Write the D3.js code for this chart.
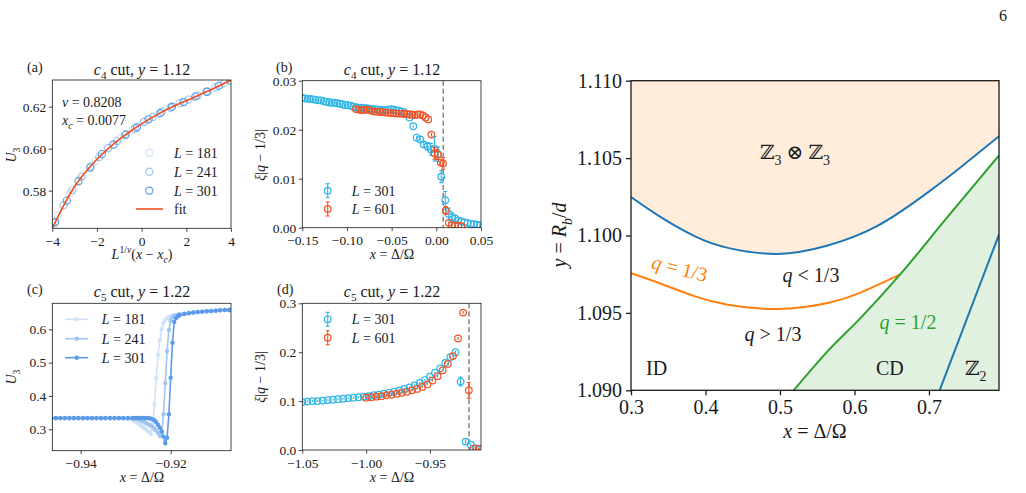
<!DOCTYPE html>
<html><head><meta charset="utf-8">
<script src="https://cdn.jsdelivr.net/npm/d3@7"></script>
<style>body{margin:0;background:#fff}</style>
</head><body><svg id="c" width="1026" height="493"></svg>
<script>
// ---------------- DATA ----------------
// (a) data collapse, c4 cut y=1.12
const a181X = [-3.75,-3.19,-2.63,-2.07,-1.51,-0.95,-0.39,0.17,0.73,1.29,1.85,2.41,2.97,3.53];
const a181Y = [0.5682,0.5788,0.5874,0.5941,0.6002,0.6049,0.6090,0.6131,0.6166,0.6194,0.6221,0.6247,0.6274,0.6303];
const a241X = [-3.9,-3.5,-3.1,-2.7,-2.3,-1.9,-1.5,-1.1,-0.7,-0.3,0.1,0.5,0.9,1.3,1.7,2.1,2.5,2.9,3.3,3.7];
const a241Y = [0.5645,0.5731,0.5803,0.5866,0.5916,0.5960,0.6003,0.6036,0.6069,0.6096,0.6127,0.6151,0.6177,0.6196,0.6217,0.6234,0.6253,0.6272,0.6292,0.6312];
const a301X = [-3.87,-3.35,-2.83,-2.30,-1.78,-1.26,-0.73,-0.21,0.31,0.84,1.36,1.88,2.41,2.93,3.45,3.97];
const a301Y = [0.5652,0.5753,0.5845,0.5910,0.5974,0.6020,0.6066,0.6102,0.6140,0.6169,0.6200,0.6222,0.6249,0.6271,0.6299,0.6324];
const fitX = [-4,-3.5,-3,-2.5,-2,-1.5,-1,-0.5,0,0.5,1,1.5,2,2.5,3,3.5,4];
const fitY = [0.5621,0.5728,0.5820,0.5890,0.5950,0.6000,0.6044,0.6083,0.6118,0.6150,0.6180,0.6206,0.6228,0.6252,0.6276,0.6301,0.6327];
const aXTicks = [-4,-2,0,2,4];
const aYTicks = [0.58,0.60,0.62];

// (b) xi|q-1/3|, c4 cut
const b301X = [-0.150,-0.147,-0.144,-0.141,-0.138,-0.135,-0.132,-0.129,-0.126,-0.123,-0.120,-0.117,-0.114,-0.111,-0.108,-0.105,-0.102,-0.099,-0.096,-0.093,-0.090,-0.087,-0.084,-0.081,-0.078,-0.075,-0.072,-0.069,-0.066,-0.063,-0.060,-0.057,-0.054,-0.051,-0.048,-0.045,-0.042,-0.039,-0.036,-0.033,-0.030,
  -0.0258,-0.0220,-0.0180,-0.0140,-0.0100,-0.0063,-0.0020,0.0020,0.0055,0.0100,0.0140,0.0175,0.0210,0.0245,0.0280,0.0315,0.0350,0.0385,0.0420,0.0455,0.0490];
const b301Y = [0.0265,0.0264,0.0263,0.0263,0.0262,0.0261,0.0260,0.0260,0.0258,0.0257,0.0256,0.0255,0.0255,0.0254,0.0253,0.0252,0.0250,0.0250,0.0249,0.0247,0.0246,0.0245,0.0245,0.0244,0.0244,0.0243,0.0242,0.0242,0.0241,0.0241,0.0240,0.0240,0.0241,0.0242,0.0241,0.0240,0.0239,0.0237,0.0236,0.0232,0.0225,
  0.0207,0.0184,0.0180,0.0170,0.0166,0.0160,0.0161,0.0150,0.0104,0.0056,0.0028,0.0022,0.0019,0.0015,0.0013,0.0011,0.0010,0.0008,0.0007,0.0006,0.0005];
const b301E = [0.0002,0.0002,0.0002,0.0002,0.0002,0.0002,0.0002,0.0002,0.0002,0.0002,0.0002,0.0002,0.0002,0.0002,0.0002,0.0002,0.0002,0.0002,0.0002,0.0002,0.0002,0.0002,0.0002,0.0002,0.0002,0.0002,0.0002,0.0002,0.0002,0.0002,0.0002,0.0002,0.0002,0.0002,0.0002,0.0002,0.0002,0.0002,0.0002,0.0002,0.0003,
  0.0003,0.0004,0.0005,0.0006,0.0008,0.0012,0.0025,0.0015,0.0012,0.0018,0.0012,0.0008,0.0005,0.0004,0.0003,0.0003,0.0003,0.0003,0.0003,0.0003,0.0003];
const b601X = [-0.090,-0.087,-0.084,-0.081,-0.078,-0.075,-0.072,-0.069,-0.066,-0.063,-0.060,-0.057,-0.054,-0.051,-0.048,-0.045,-0.042,-0.039,-0.036,-0.033,-0.030,-0.027,-0.024,-0.021,-0.018,-0.015,-0.012,-0.009,
  -0.0055,-0.0020,0.0015,0.0050,0.0075,0.0105,0.0140,0.0175,0.0210,0.0245,0.0280];
const b601Y = [0.0242,0.0241,0.0240,0.0240,0.0241,0.0240,0.0238,0.0237,0.0237,0.0236,0.0236,0.0235,0.0235,0.0234,0.0234,0.0233,0.0233,0.0233,0.0232,0.0232,0.0231,0.0231,0.0230,0.0231,0.0231,0.0229,0.0225,0.0221,
  0.0190,0.0152,0.0149,0.0133,0.0131,0.0035,0.0010,0.0005,0.0004,0.0004,0.0003];
const b601E = [0.0002,0.0002,0.0002,0.0002,0.0002,0.0002,0.0002,0.0002,0.0002,0.0002,0.0002,0.0002,0.0002,0.0002,0.0002,0.0002,0.0002,0.0002,0.0002,0.0002,0.0002,0.0002,0.0002,0.0002,0.0002,0.0002,0.0002,0.0002,
  0.0004,0.0012,0.0010,0.0006,0.0012,0.0008,0.0003,0.0002,0.0002,0.0002,0.0002];
const bXc = 0.0077;
const bXTicks = [-0.15,-0.10,-0.05,0.00,0.05];
const bYTicks = [0.00,0.01,0.02,0.03];

// (c) U3, c5 cut y=1.22
const cX = [-0.9465,-0.9455,-0.9445,-0.9435,-0.9425,-0.9415,-0.9405,-0.9395,-0.9385,-0.9375,-0.9365,-0.9355,-0.9345,-0.9335,-0.9325,-0.9315,-0.9305,-0.9295,-0.9285,
  -0.9280,-0.9276,-0.9272,-0.9268,-0.9264,-0.9260,-0.9256,-0.9252,-0.9248,-0.9244,-0.9240,-0.9236,-0.9232,-0.9228,-0.9224,-0.9220,-0.9216,-0.9212,-0.9208,-0.9204,-0.9200,-0.9196,-0.9192,-0.9188,-0.9184,-0.9180,
  -0.9170,-0.9160,-0.9150,-0.9140,-0.9130,-0.9120,-0.9110,-0.9100,-0.9090,-0.9080,-0.9070,-0.9065];
const c181 = [0.333,0.333,0.333,0.333,0.333,0.333,0.333,0.333,0.333,0.333,0.333,0.333,0.333,0.333,0.333,0.333,0.332,0.331,0.328,
  0.325,0.321,0.318,0.313,0.309,0.305,0.301,0.297,0.292,0.286,0.318,0.375,0.455,0.523,0.568,0.600,0.620,0.629,0.634,0.637,0.639,0.641,0.642,0.643,0.644,0.645,
  0.647,0.649,0.651,0.652,0.653,0.654,0.655,0.656,0.657,0.657,0.658,0.658];
const c241 = [0.333,0.333,0.333,0.333,0.333,0.333,0.333,0.333,0.333,0.333,0.333,0.333,0.333,0.333,0.333,0.333,0.333,0.333,0.333,
  0.332,0.331,0.330,0.328,0.326,0.323,0.320,0.317,0.314,0.311,0.307,0.302,0.296,0.289,0.280,0.292,0.345,0.438,0.535,0.598,0.626,0.636,0.640,0.642,0.644,0.645,
  0.647,0.649,0.651,0.652,0.653,0.654,0.655,0.656,0.657,0.658,0.658,0.659];
const c301 = [0.334,0.334,0.334,0.334,0.334,0.334,0.334,0.334,0.334,0.334,0.334,0.334,0.334,0.334,0.334,0.334,0.334,0.334,0.334,
  0.334,0.334,0.334,0.334,0.334,0.334,0.334,0.334,0.333,0.332,0.330,0.327,0.321,0.313,0.305,0.294,0.278,0.258,0.275,0.345,0.455,0.560,0.622,0.634,0.639,0.642,
  0.646,0.648,0.650,0.652,0.653,0.654,0.655,0.656,0.657,0.658,0.658,0.659];
const cXTicks = [-0.94,-0.92];
const cYTicks = [0.3,0.4,0.5,0.6];

// (d) xi|q-1/3|, c5 cut
const d301X = [-1.050,-1.046,-1.042,-1.038,-1.034,-1.030,-1.026,-1.022,-1.018,-1.014,-1.010,-1.006,-1.002,-0.998,-0.994,-0.990,-0.986,-0.982,-0.978,-0.974,-0.970,-0.966,-0.962,-0.958,-0.954,-0.950,-0.946,-0.942,-0.938,-0.934,-0.930,
  -0.926,-0.922,-0.918,-0.914,-0.911];
const d301Y = [0.098,0.099,0.100,0.100,0.101,0.102,0.103,0.104,0.105,0.106,0.107,0.108,0.109,0.110,0.112,0.113,0.115,0.117,0.119,0.122,0.125,0.128,0.132,0.137,0.143,0.150,0.158,0.167,0.178,0.190,0.200,
  0.140,0.017,0.011,0.004,0.002];
const d301E = [0.002,0.002,0.002,0.002,0.002,0.002,0.002,0.002,0.002,0.002,0.002,0.002,0.002,0.002,0.002,0.002,0.002,0.002,0.002,0.002,0.002,0.002,0.002,0.002,0.002,0.002,0.002,0.002,0.002,0.002,0.003,
  0.009,0.007,0.003,0.002,0.002];
const d601X = [-1.000,-0.996,-0.992,-0.988,-0.984,-0.980,-0.976,-0.972,-0.968,-0.964,-0.960,-0.956,-0.952,-0.948,-0.944,-0.940,-0.936,-0.932,
  -0.928,-0.924,-0.9195,-0.916,-0.912];
const d601Y = [0.107,0.108,0.109,0.110,0.112,0.113,0.115,0.117,0.119,0.122,0.125,0.129,0.134,0.142,0.151,0.163,0.176,0.192,
  0.228,0.281,0.122,0.003,0.002];
const d601E = [0.002,0.002,0.002,0.002,0.002,0.002,0.002,0.002,0.002,0.002,0.002,0.002,0.002,0.002,0.002,0.002,0.002,0.002,
  0.003,0.003,0.016,0.002,0.002];
const dXc = -0.9194;
const dXTicks = [-1.05,-1.00,-0.95];
const dYTicks = [0.0,0.1,0.2,0.3];

// Phase diagram
const z3X = [0.300,0.341,0.386,0.430,0.497,0.564,0.632,0.699,0.743,0.794];
const z3Y = [1.10248,1.10115,1.09994,1.09920,1.09881,1.09935,1.10065,1.10280,1.10442,1.10641];
const q13X = [0.300,0.341,0.386,0.430,0.497,0.564,0.609,0.661];
const q13Y = [1.09756,1.09687,1.09607,1.09553,1.09525,1.09564,1.09633,1.09747];
const q12X = [0.5184,0.5644,0.609,0.661,0.7211,0.794];
const q12Y = [1.0900,1.09255,1.09471,1.09747,1.10097,1.10518];
const z2X = [0.7143,0.794];
const z2Y = [1.0900,1.10006];
const pXTicks = [0.3,0.4,0.5,0.6,0.7];
const pYTicks = [1.090,1.095,1.100,1.105,1.110];

// ---------------- DRAWING ----------------
const FONT = "'Liberation Serif','DejaVu Serif',serif";
const svg = d3.select('#c');
svg.append('rect').attr('width',1026).attr('height',493).attr('fill','#fff');
const zip = (a,b,c) => a.map((v,i)=> c ? [v,b[i],c[i]] : [v,b[i]]);

function rich(t, parts, fs){
  let shift = 0;
  parts.forEach(([txt, s]) => {
    s = s || '';
    let target = 0, size = fs;
    if (s.includes('sub')) { target = 0.28*fs; size = 0.7*fs; }
    if (s.includes('sup')) { target = -0.42*fs; size = 0.7*fs; }
    const ts = t.append('tspan').text(txt).attr('font-size', size);
    if (target - shift !== 0) ts.attr('dy', target - shift);
    if (s.includes('i')) ts.attr('font-style','italic');
    shift = target;
  });
}
function label(x, y, parts, fs, o={}){
  const t = svg.append('text').attr('x',x).attr('y',y).attr('font-family',FONT)
    .attr('font-size',fs).attr('fill',o.fill||'#1a1a1a').attr('text-anchor',o.anchor||'middle');
  if (o.rotate !== undefined) t.attr('transform',`rotate(${o.rotate},${x},${y})`);
  rich(t, parts, fs);
  return t;
}

let clipN = 0;
function panel(box, xd, yd, xt, yt, xf, yf, o){
  const x = d3.scaleLinear().domain(xd).range([box.x0, box.x1]);
  const y = d3.scaleLinear().domain(yd).range([box.y1, box.y0]);
  const g = svg.append('g');
  const id = 'clip' + (clipN++);
  svg.append('clipPath').attr('id',id).append('rect')
    .attr('x',box.x0).attr('y',box.y0).attr('width',box.x1-box.x0).attr('height',box.y1-box.y0);
  const data = g.append('g').attr('clip-path',`url(#${id})`);
  const ax = g.append('g').attr('transform',`translate(0,${box.y1})`)
    .call(d3.axisBottom(x).tickValues(xt).tickFormat(xf).tickSizeOuter(0).tickSize(o.tl).tickPadding(o.tpx));
  const ay = g.append('g').attr('transform',`translate(${box.x0},0)`)
    .call(d3.axisLeft(y).tickValues(yt).tickFormat(yf).tickSizeOuter(0).tickSize(o.tl).tickPadding(o.tpy));
  [ax, ay].forEach(a => {
    a.select('.domain').remove();
    a.selectAll('text').attr('font-family',FONT).attr('font-size',o.fs).attr('fill','#1a1a1a');
    a.selectAll('line').attr('stroke','#1a1a1a').attr('stroke-width',o.sw);
  });
  g.append('rect').attr('x',box.x0).attr('y',box.y0).attr('width',box.x1-box.x0).attr('height',box.y1-box.y0)
    .attr('fill','none').attr('stroke','#1a1a1a').attr('stroke-width',o.sw);
  return {x, y, data, g};
}
const small = {tl:3.5, tpx:4.5, tpy:2.5, fs:13.5, sw:0.8};
const c181col = '#cfe2f8', c241col = '#9fc5f1', c301col = '#5b9be8';
const cyan = '#2fb5e8', red = '#ee5426';

// ---- (a)
const A = panel({x0:52.3,x1:231,y0:80,y1:228.3}, [-4,4], [0.5621,0.6327], aXTicks, aYTicks, d3.format('d'), d3.format('.2f'), small);
[[a181X,a181Y,c181col],[a241X,a241Y,c241col],[a301X,a301Y,c301col]].forEach(([xs,ys,col])=>{
  A.data.selectAll(null).data(zip(xs,ys)).join('circle').attr('cx',d=>A.x(d[0])).attr('cy',d=>A.y(d[1]))
    .attr('r',3.6).attr('fill','none').attr('stroke',col).attr('stroke-width',1.1);
});
A.data.append('path').datum(zip(fitX,fitY)).attr('d',d3.line().x(d=>A.x(d[0])).y(d=>A.y(d[1])).curve(d3.curveMonotoneX))
  .attr('fill','none').attr('stroke','#f04e1e').attr('stroke-width',1.6);
label(62,107,[['ν','i'],[' = 0.8208']],14,{anchor:'start'});
label(62,125,[['x','i'],['c','subi'],[' = 0.0077']],14,{anchor:'start'});
[[152.7,c181col,'181'],[171.7,c241col,'241'],[190.7,c301col,'301']].forEach(([yy,col,L])=>{
  svg.append('circle').attr('cx',149.3).attr('cy',yy).attr('r',3.6).attr('fill','none').attr('stroke',col).attr('stroke-width',1.1);
  label(174,yy+5,[['L','i'],[' = '+L]],14,{anchor:'start'});
});
svg.append('line').attr('x1',136).attr('x2',163).attr('y1',209).attr('y2',209).attr('stroke','#f04e1e').attr('stroke-width',1.6);
label(174,214,[['fit']],14,{anchor:'start'});
label(142,75,[['c','i'],['4','sub'],[' cut, '],['y','i'],[' = 1.12']],16);
label(27,72,[['(a)']],14,{anchor:'start'});
label(142,259,[['L','i'],['1/','sup'],['ν','supi'],['('],['x','i'],[' − '],['x','i'],['c','subi'],[')']],14);
label(16,155,[['U','i'],['3','sub']],14,{rotate:-90});

// error-bar circle helper
function ebar(P, xs, ys, es, col){
  const d = zip(xs,ys,es);
  const g = P.data.append('g');
  d.forEach(([xv,yv,ev])=>{
    const cx = P.x(xv), y1 = P.y(yv-ev), y2 = P.y(yv+ev);
    g.append('line').attr('x1',cx).attr('x2',cx).attr('y1',y1).attr('y2',y2).attr('stroke',col).attr('stroke-width',1.1);
    if (Math.abs(y1-y2) > 7){
      [y1,y2].forEach(v=>g.append('line').attr('x1',cx-2).attr('x2',cx+2).attr('y1',v).attr('y2',v).attr('stroke',col).attr('stroke-width',1.1));
    }
  });
  g.selectAll('circle').data(d).join('circle').attr('cx',v=>P.x(v[0])).attr('cy',v=>P.y(v[1]))
    .attr('r',3.3).attr('fill','none').attr('stroke',col).attr('stroke-width',1.2);
}
function legendEb(x,y,col,L){
  svg.append('line').attr('x1',x).attr('x2',x).attr('y1',y-7).attr('y2',y+7).attr('stroke',col).attr('stroke-width',1.1);
  [y-7,y+7].forEach(v=>svg.append('line').attr('x1',x-2).attr('x2',x+2).attr('y1',v).attr('y2',v).attr('stroke',col).attr('stroke-width',1.1));
  svg.append('circle').attr('cx',x).attr('cy',y).attr('r',3.3).attr('fill','none').attr('stroke',col).attr('stroke-width',1.2);
  label(351.7,y+5,[['L','i'],[' = '+L]],14,{anchor:'start'});
}

// ---- (b)
const B = panel({x0:302.3,x1:481,y0:80.7,y1:227.7}, [-0.15,0.05], [0,0.03], bXTicks, bYTicks, d3.format('.2f'), d3.format('.2f'), small);
B.data.append('line').attr('x1',B.x(bXc)).attr('x2',B.x(bXc)).attr('y1',80.7).attr('y2',227.7)
  .attr('stroke','#707070').attr('stroke-width',1.3).attr('stroke-dasharray','5,3');
ebar(B, b301X, b301Y, b301E, cyan);
ebar(B, b601X, b601Y, b601E, red);
legendEb(327.7,190.7,cyan,'301');
legendEb(327.7,209,red,'601');
label(392,75,[['c','i'],['4','sub'],[' cut, '],['y','i'],[' = 1.12']],16);
label(276,72,[['(b)']],14,{anchor:'start'});
label(392,259,[['x','i'],[' = Δ/Ω']],14);
label(265,155,[['ξ','i'],['|'],['q','i'],[' − 1/3|']],14,{rotate:-90});

// ---- (c)
const C = panel({x0:52.3,x1:231,y0:303.3,y1:450.7}, [-0.9463,-0.9066], [0.2358,0.678], cXTicks, cYTicks, d3.format('.2f'), d3.format('.1f'), small);
[[c181,c181col],[c241,c241col],[c301,c301col]].forEach(([ys,col])=>{
  const d = zip(cX,ys);
  C.data.append('path').datum(d).attr('d',d3.line().x(v=>C.x(v[0])).y(v=>C.y(v[1])))
    .attr('fill','none').attr('stroke',col).attr('stroke-width',1.6);
  C.data.append('g').selectAll('circle').data(d).join('circle').attr('cx',v=>C.x(v[0])).attr('cy',v=>C.y(v[1]))
    .attr('r',2.2).attr('fill',col);
});
[[319.3,c181col,'181'],[338.7,c241col,'241'],[357.7,c301col,'301']].forEach(([yy,col,L])=>{
  svg.append('line').attr('x1',65).attr('x2',88.3).attr('y1',yy).attr('y2',yy).attr('stroke',col).attr('stroke-width',1.6);
  svg.append('circle').attr('cx',76.7).attr('cy',yy).attr('r',2.2).attr('fill',col);
  label(101.7,yy+5,[['L','i'],[' = '+L]],14,{anchor:'start'});
});
label(142,297,[['c','i'],['5','sub'],[' cut, '],['y','i'],[' = 1.22']],16);
label(27,294,[['(c)']],14,{anchor:'start'});
label(142,482,[['x','i'],[' = Δ/Ω']],14);
label(16,377,[['U','i'],['3','sub']],14,{rotate:-90});

// ---- (d)
const D = panel({x0:302.3,x1:481,y0:303.3,y1:450}, [-1.05,-0.91], [0,0.3], dXTicks, dYTicks, d3.format('.2f'), d3.format('.1f'), small);
D.data.append('line').attr('x1',D.x(dXc)).attr('x2',D.x(dXc)).attr('y1',303.3).attr('y2',450)
  .attr('stroke','#707070').attr('stroke-width',1.3).attr('stroke-dasharray','5,3');
ebar(D, d301X, d301Y, d301E, cyan);
ebar(D, d601X, d601Y, d601E, red);
legendEb(327.7,319.3,cyan,'301');
legendEb(327.7,337.7,red,'601');
label(392,297,[['c','i'],['5','sub'],[' cut, '],['y','i'],[' = 1.22']],16);
label(277,294,[['(d)']],14,{anchor:'start'});
label(392,482,[['x','i'],[' = Δ/Ω']],14);
label(265,377,[['ξ','i'],['|'],['q','i'],[' − 1/3|']],14,{rotate:-90});

// ---- Phase diagram
const P = panel({x0:631,x1:999,y0:80.7,y1:390.3}, [0.3,0.794], [1.09,1.11], pXTicks, pYTicks, d3.format('.1f'), d3.format('.3f'), {tl:5, tpx:5, tpy:4, fs:20, sw:1.3});
const lineP = d3.line().x(d=>P.x(d[0])).y(d=>P.y(d[1])).curve(d3.curveNatural);
const lineM = d3.line().x(d=>P.x(d[0])).y(d=>P.y(d[1])).curve(d3.curveMonotoneX);
P.data.append('path').datum(zip(z3X,z3Y))
  .attr('d',d3.area().x(d=>P.x(d[0])).y0(P.y(1.11)).y1(d=>P.y(d[1])).curve(d3.curveNatural))
  .attr('fill','#ff7f0e').attr('fill-opacity',0.15);
P.data.append('path').datum(zip(q12X,q12Y))
  .attr('d',d3.area().x(d=>P.x(d[0])).y0(P.y(1.09)).y1(d=>P.y(d[1])).curve(d3.curveMonotoneX))
  .attr('fill','#2ca02c').attr('fill-opacity',0.15);
P.data.append('path').datum(zip(z3X,z3Y)).attr('d',lineP).attr('fill','none').attr('stroke','#1f77b4').attr('stroke-width',2);
P.data.append('path').datum(zip(q13X,q13Y)).attr('d',lineP).attr('fill','none').attr('stroke','#ff7f0e').attr('stroke-width',2);
P.data.append('path').datum(zip(q12X,q12Y)).attr('d',lineM).attr('fill','none').attr('stroke','#2ca02c').attr('stroke-width',2);
P.data.append('path').datum(zip(z2X,z2Y)).attr('d',lineM).attr('fill','none').attr('stroke','#1f77b4').attr('stroke-width',2);

label(795,159,[['ℤ'],['3','sub'],[' ⊗ '],['ℤ'],['3','sub']],20);
label(811,282,[['q','i'],[' < 1/3']],20);
label(773,341,[['q','i'],[' > 1/3']],20);
label(678,275,[['q','i'],[' = 1/3']],20,{fill:'#ff7f0e',rotate:14});
label(908,329,[['q','i'],[' = 1/2']],20,{fill:'#2ca02c'});
label(646,375,[['ID']],20,{anchor:'start'});
label(876,375,[['CD']],20,{anchor:'start'});
label(965,375,[['ℤ'],['2','sub']],20,{anchor:'start'});
label(815,438,[['x','i'],[' = Δ/Ω']],20);
label(566,235,[['y','i'],[' = '],['R','i'],['b','subi'],['/'],['d','i']],20,{rotate:-90});
label(1003,21,[['6']],16);
</script></body></html>
